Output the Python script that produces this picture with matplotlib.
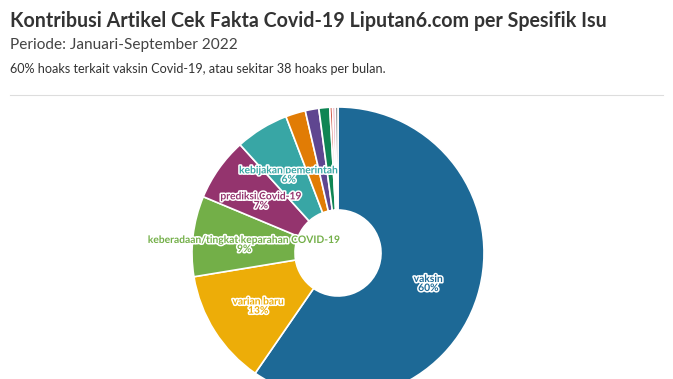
import matplotlib.pyplot as plt
import matplotlib.patheffects as pe
import numpy as np

# data (share of articles, %)
issues = ['vaksin', 'varian baru', 'keberadaan/tingkat keparahan COVID-19',
          'prediksi Covid-19', 'kebijakan pemerintah',
          'lainnya 1', 'lainnya 2', 'lainnya 3', 'lainnya 4', 'lainnya 5', 'lainnya 6']
shares = [59.6, 12.8, 8.9, 7.0, 5.9, 2.2, 1.5, 1.2, 0.3, 0.3, 0.3]
colors = ['#1d6996', '#edad08', '#73af48', '#94346e', '#38a6a5',
          '#e17c05', '#5f4690', '#0f8554', '#cc503e', '#e99aae', '#888888']

plt.rcParams['font.family'] = ['Lato', 'DejaVu Sans']

fig = plt.figure(figsize=(6.73, 3.79), dpi=100)
W, H = 673, 379

# header texts
fig.text(10 / W, 1 - 21 / H, 'Kontribusi Artikel Cek Fakta Covid-19 Liputan6.com per Spesifik Isu',
         fontsize=14.1, fontweight='bold', color='#333333', va='center', ha='left')
fig.text(10 / W, 1 - 45 / H, 'Periode: Januari-September 2022',
         fontsize=11.1, color='#444444', va='center', ha='left')
fig.text(10 / W, 1 - 69 / H, '60% hoaks terkait vaksin Covid-19, atau sekitar 38 hoaks per bulan.',
         fontsize=9.1, color='#333333', va='center', ha='left')
fig.add_artist(plt.Line2D([10 / W, 663 / W], [1 - 95 / H, 1 - 95 / H],
                          color='#dddddd', lw=0.8))

# donut
cx, cy, R = 338, 253, 146
ax = fig.add_axes([(cx - R) / W, (H - cy - R) / H, 2 * R / W, 2 * R / H])
hole = 43 / R
wedges, _ = ax.pie(shares, colors=colors, startangle=90, counterclock=False,
                   radius=1, wedgeprops=dict(width=1 - hole, edgecolor='white', linewidth=1.2))
ax.set_xlim(-1, 1)
ax.set_ylim(-1, 1)
ax.set_aspect('equal')
ax.axis('off')

# labels at mid ring for the larger slices
total = sum(shares)
start = 90.0
r_lab = (1 + hole) / 2
for name, val, col in zip(issues, shares, colors):
    span = 360 * val / total
    mid = np.deg2rad(start - span / 2)
    start -= span
    if val < 5:
        continue
    ax.text(r_lab * np.cos(mid), r_lab * np.sin(mid) - 0.02, f'{name}\n{round(val)}%',
            ha='center', va='center', fontsize=7.4, fontweight='bold', color=col,
            linespacing=1.0,
            path_effects=[pe.withStroke(linewidth=2.2, foreground='white')])

fig.savefig('out.png', dpi=100)
